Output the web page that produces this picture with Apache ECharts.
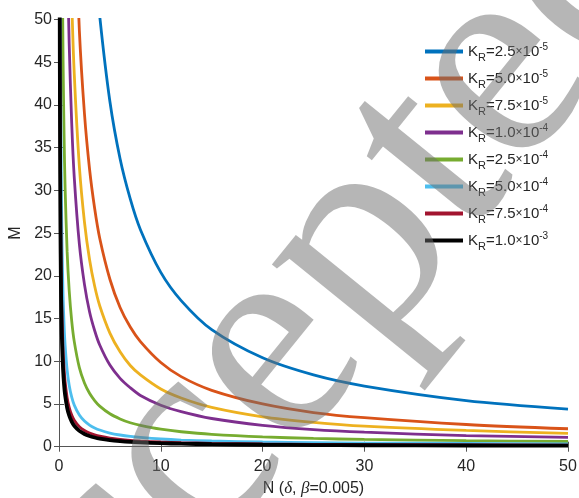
<!DOCTYPE html>
<html>
<head>
<meta charset="utf-8">
<script src="https://cdn.jsdelivr.net/npm/echarts@6/dist/echarts.min.js"></script>
<style>
  html, body { margin: 0; padding: 0; background: #fff; }
  #chart { width: 579px; height: 498px; }
</style>
</head>
<body>
<div id="chart"></div>
<script>
// N values shared by every curve
const nValues = [0.05, 0.07, 0.1, 0.13, 0.16, 0.2, 0.25, 0.3, 0.4, 0.5, 0.6, 0.8, 1, 1.25, 1.5, 2, 2.5, 3, 3.5, 4, 5, 6, 7, 8, 10, 12, 15, 20, 25, 30, 40, 50];

// M
const mK25e5 = [4000, 2857, 2000, 1539, 1250, 1000, 800, 667, 500, 400, 334, 250, 200, 160, 134, 100, 80.4, 67.1, 57.5, 50.4, 40.4, 33.7, 29.0, 25.4, 20.4, 17.1, 13.7, 10.4, 8.4, 7.1, 5.4, 4.4];
const mK50e5 = [1940, 1386, 970, 746, 606, 485, 388, 323, 243, 194, 162, 121, 97.2, 77.8, 64.8, 48.7, 39.0, 32.5, 27.9, 24.4, 19.6, 16.3, 14.0, 12.3, 9.85, 8.2, 6.6, 5.0, 4.0, 3.4, 2.6, 2.1];
const mK75e5 = [1300, 929, 650, 500, 406, 325, 260, 217, 163, 130, 109, 81.5, 65.3, 52.3, 43.6, 32.8, 26.3, 21.9, 18.8, 16.5, 13.3, 11.1, 9.5, 8.4, 6.75, 5.7, 4.6, 3.5, 2.85, 2.4, 1.9, 1.55];
const mK10e4 = [940, 671, 470, 362, 294, 235, 188, 157, 118, 94.2, 78.5, 58.9, 47.2, 37.8, 31.5, 23.7, 19.0, 15.8, 13.6, 11.9, 9.55, 8.0, 6.9, 6.0, 4.85, 4.1, 3.3, 2.5, 2.0, 1.7, 1.3, 1.1];
const mK25e4 = [360, 257, 180, 139, 113, 90.3, 72.3, 60.3, 45.3, 36.3, 30.3, 22.8, 18.3, 14.7, 12.3, 9.25, 7.45, 6.25, 5.4, 4.75, 3.85, 3.25, 2.8, 2.5, 2.05, 1.75, 1.45, 1.15, 0.97, 0.85, 0.7, 0.61];
const mK50e4 = [140, 100, 70.2, 54.0, 44.0, 35.2, 28.2, 23.5, 17.7, 14.2, 11.9, 8.95, 7.2, 5.8, 4.87, 3.7, 3.0, 2.53, 2.2, 1.95, 1.6, 1.37, 1.2, 1.08, 0.9, 0.78, 0.67, 0.55, 0.48, 0.43, 0.38, 0.34];
const mK75e4 = [90.1, 64.4, 45.1, 34.7, 28.2, 22.6, 18.1, 15.1, 11.35, 9.1, 7.6, 5.73, 4.6, 3.7, 3.1, 2.35, 1.9, 1.6, 1.39, 1.23, 1.0, 0.85, 0.74, 0.66, 0.55, 0.48, 0.4, 0.33, 0.28, 0.25, 0.21, 0.19];
const mK10e3 = [72.1, 51.5, 36.1, 27.7, 22.6, 18.05, 14.45, 12.05, 9.05, 7.25, 6.05, 4.55, 3.65, 2.93, 2.45, 1.85, 1.49, 1.25, 1.08, 0.95, 0.77, 0.65, 0.56, 0.5, 0.41, 0.35, 0.29, 0.23, 0.19, 0.17, 0.14, 0.12];

const kMantissa = ["2.5", "5.0", "7.5", "1.0", "2.5", "5.0", "7.5", "1.0"];
const kExponent = ["-5", "-5", "-5", "-4", "-4", "-4", "-4", "-3"];
const curves = [mK25e5, mK50e5, mK75e5, mK10e4, mK25e4, mK50e4, mK75e4, mK10e3];
const colors = ["#0072BD", "#D95319", "#EDB120", "#7E2F8E", "#77AC30", "#4DBEEE", "#A2142F", "#000000"];

const xTicks = [0, 10, 20, 30, 40, 50];
const yTicks = [0, 5, 10, 15, 20, 25, 30, 35, 40, 45, 50];

const axisColor = "#555";
const textColor = "#262626";
const font = "Liberation Sans";

const names = kMantissa.map((m, i) => `KR=${m}x10^${kExponent[i]}`);

const series = curves.map((ys, i) => ({
  name: names[i],
  type: "line",
  data: nValues.map((n, j) => [n, ys[j]]),
  showSymbol: false,
  smooth: 0.3,
  clip: true,
  silent: true,
  animation: false,
  color: colors[i],
  lineStyle: { width: i === 7 ? 3.8 : 2.8, color: colors[i] }
}));

const baseAxis = {
  axisLine: { show: true, lineStyle: { color: axisColor, width: 1 } },
  axisTick: { show: true, inside: true, length: 5, lineStyle: { color: axisColor } },
  splitLine: { show: false }
};

const chart = echarts.init(document.getElementById("chart"));
chart.setOption({
  animation: false,
  backgroundColor: "#fff",
  grid: { left: 59, right: 11, top: 19.5, bottom: 51.3, containLabel: false, outerBoundsMode: "none" },
  xAxis: [
    {
      ...baseAxis,
      type: "value",
      min: xTicks[0],
      max: xTicks[xTicks.length - 1],
      interval: 10,
      position: "bottom",
      axisLabel: { color: textColor, fontFamily: font, fontSize: 16, margin: 12 },
      name: "{t|N (}{i|δ}{t|, }{i|β}{t|=0.005)}",
      nameLocation: "middle",
      nameGap: 31,
      nameTextStyle: {
        rich: {
          t: { color: textColor, fontFamily: font, fontSize: 16 },
          i: { color: textColor, fontFamily: "Liberation Serif", fontStyle: "italic", fontSize: 17 }
        }
      }
    },
    {
      ...baseAxis,
      type: "value",
      min: xTicks[0],
      max: xTicks[xTicks.length - 1],
      interval: 10,
      position: "top",
      axisLabel: { show: false }
    }
  ],
  yAxis: [
    {
      ...baseAxis,
      type: "value",
      min: yTicks[0],
      max: yTicks[yTicks.length - 1],
      interval: 5,
      position: "left",
      axisLabel: { color: textColor, fontFamily: font, fontSize: 16, margin: 7 },
      name: "M",
      nameLocation: "middle",
      nameGap: 31,
      nameTextStyle: { color: textColor, fontFamily: font, fontSize: 16 }
    },
    {
      ...baseAxis,
      type: "value",
      min: yTicks[0],
      max: yTicks[yTicks.length - 1],
      interval: 5,
      position: "right",
      axisLabel: { show: false }
    }
  ],
  legend: {
    orient: "vertical",
    left: 425,
    top: 42,
    padding: 0,
    icon: "rect",
    itemWidth: 38,
    itemHeight: 4,
    itemGap: 6,
    data: names,
    formatter: (name) => {
      const i = names.indexOf(name);
      return `{a|K}{sub|R}{a|=${kMantissa[i]}}{x|×}{a|10}{sup|${kExponent[i]}}`;
    },
    textStyle: {
      color: textColor,
      fontFamily: font,
      rich: {
        a: { fontSize: 15, fontFamily: font, color: textColor, lineHeight: 21 },
        x: { fontSize: 12, fontFamily: font, color: textColor, lineHeight: 21 },
        sub: { fontSize: 11, fontFamily: font, color: textColor, padding: [12, 0, 0, 0] },
        sup: { fontSize: 10, fontFamily: font, color: textColor, padding: [0, 0, 9, 0] }
      }
    }
  },
  graphic: [
    {
      type: "text",
      x: 282,
      y: 344,
      rotation: (51 * Math.PI) / 180,
      z: 100,
      silent: true,
      style: {
        text: "Accepted",
        font: "295px 'Liberation Serif'",
        fill: "rgba(110,110,110,0.5)",
        align: "center",
        verticalAlign: "middle"
      }
    }
  ],
  series
});
</script>
</body>
</html>
